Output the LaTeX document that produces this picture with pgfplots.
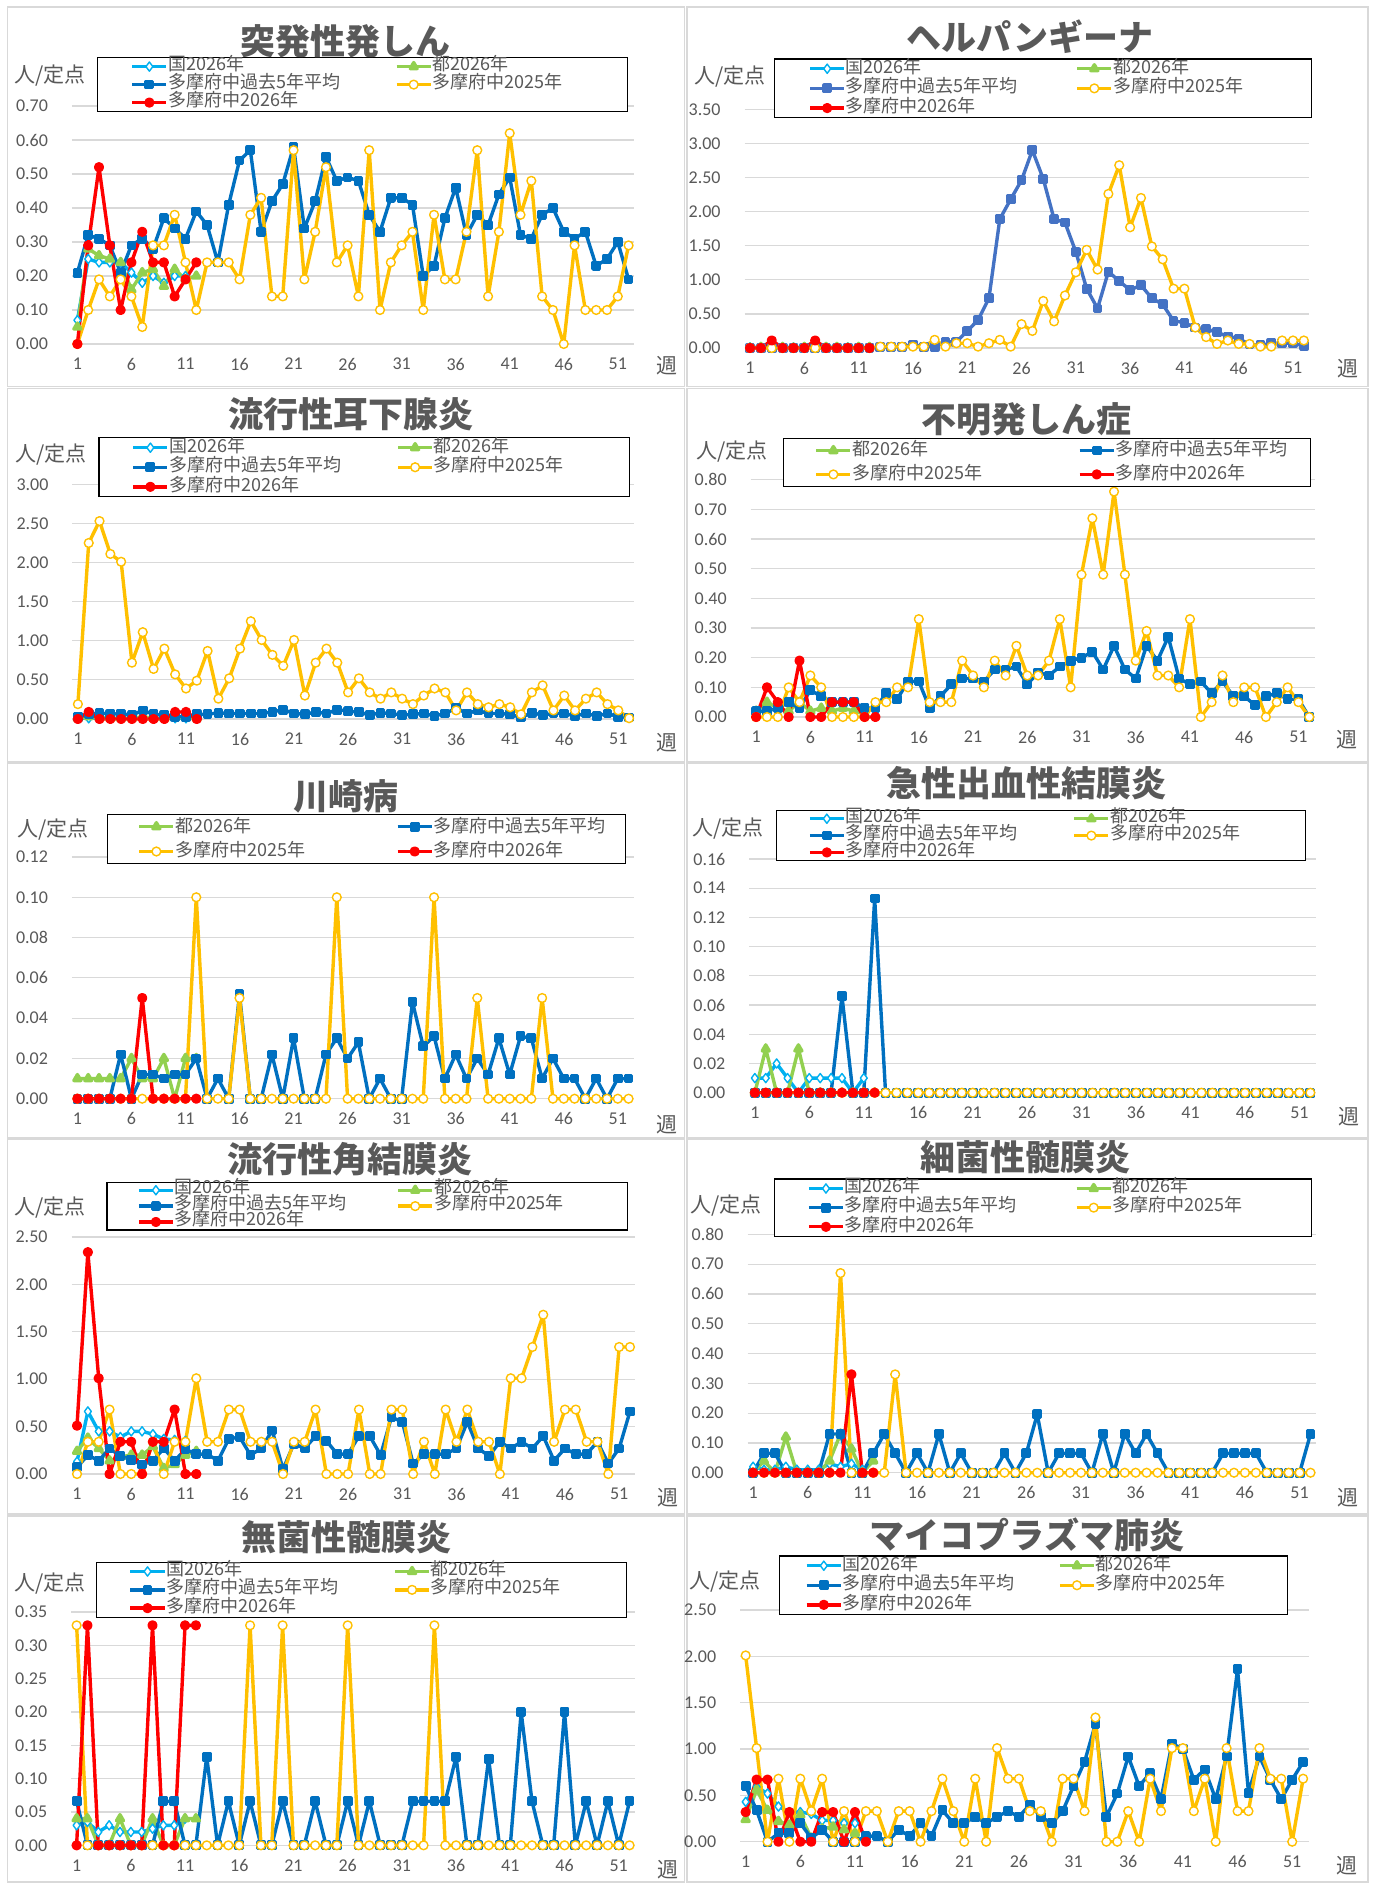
\documentclass[border=0pt]{standalone}
\usepackage{fontspec}
\setmainfont{Carlito}
\newfontfamily\jp{Noto Sans CJK JP}
\usepackage{pgfplots}
\pgfplotsset{compat=1.18}
\definecolor{txtc}{HTML}{595959}
\definecolor{gridc}{HTML}{D9D9D9}
\definecolor{kunic}{HTML}{00B0F0}
\definecolor{toc}{HTML}{92D050}
\definecolor{pastc}{HTML}{0070C0}
\definecolor{pastb}{HTML}{4472C4}
\definecolor{yac}{HTML}{FFC000}
\definecolor{ybc}{HTML}{FF0000}
\pgfplotsset{
 panel/.style={
  scale only axis, anchor=south west,
  xmin=0.5, xmax=52.5, ymin=0,
  xtick={1,6,11,16,21,26,31,36,41,46,51},
  axis line style={draw=none},
  major tick length=0pt,
  ymajorgrids, grid style={gridc, line width=0.6pt},
  clip=false, scaled y ticks=false,
  /pgf/number format/assume math mode=true,
  ticklabel style={font=\fontsize{9}{10}\selectfont, text=txtc},
  yticklabel style={/pgf/number format/fixed, /pgf/number format/fixed zerofill, /pgf/number format/precision=2, anchor=east, xshift=-8.5pt},
  xticklabel style={anchor=center, yshift=-10pt},
  legend columns=2, legend cell align=left,
  legend style={anchor=north west, draw=black, line width=0.6pt, fill=white, inner ysep=0pt, column sep=0pt, row sep=0pt, font=\fontsize{9}{9}\jp\color{txtc}},
 },
 kuni/.style={color=kunic, line width=1.7pt, line join=round, mark=diamond*, mark size=2.3pt, mark options={fill=white, line width=0.7pt}},
 to/.style={color=toc, line width=1.7pt, line join=round, mark=triangle*, mark size=2pt},
 past/.style={color=pastc, line width=1.7pt, line join=round, mark=square*, mark size=1.6pt},
 pastB/.style={color=pastb, line width=1.7pt, line join=round, mark=square*, mark size=1.6pt},
 ya/.style={color=yac, line width=1.7pt, line join=round, mark=*, mark size=2.2pt, mark options={fill=white, line width=0.7pt}},
 yb/.style={color=ybc, line width=1.7pt, line join=round, mark=*, mark size=1.7pt},
}
\begin{document}
\begin{tikzpicture}
\useasboundingbox (0,0) rectangle (686.5pt,-942pt);
\fill[white] (0,0) rectangle (686.5pt,-942pt);
\foreach \xa/\xb in {3.75/342.25, 343.5/684}{
 \foreach \ya/\yb in {3.5/193.25, 194.25/381, 381.75/568.75, 569.5/757, 758/941}{
  \draw[gridc, line width=0.6pt] (\xa pt,-\ya pt) rectangle (\xb pt,-\yb pt);
 }
}
% ---------- P1 突発性発しん
\begin{axis}[panel, at={(36pt,-172pt)}, width=281pt, height=119pt, ymax=0.7, ytick={0,0.1,0.2,0.3,0.4,0.5,0.6,0.7},
 legend style={at={(0.0445,1.2059)}, inner xsep=16.5pt, nodes={inner sep=0pt, text height=6.5pt, text depth=2.5pt}}]
\addplot[kuni] coordinates {(1,.07)(2,.25)(3,.24)(4,.24)(5,.24)(6,.21)(7,.18)(8,.20)(9,.18)(10,.20)(11,.20)};
\addlegendentry{\makebox[113.4pt][l]{国2026年}}
\addplot[to] coordinates {(1,.05)(2,.28)(3,.26)(4,.25)(5,.24)(6,.16)(7,.21)(8,.22)(9,.17)(10,.22)(11,.19)(12,.20)};
\addlegendentry{\makebox[81pt][l]{都2026年}}
\addplot[past] coordinates {(1,.21)(2,.32)(3,.31)(4,.29)(5,.21)(6,.29)(7,.31)(8,.28)(9,.37)(10,.34)(11,.31)(12,.39)(13,.35)(14,.24)(15,.41)(16,.54)(17,.57)(18,.33)(19,.42)(20,.47)(21,.58)(22,.34)(23,.42)(24,.55)(25,.48)(26,.49)(27,.48)(28,.38)(29,.33)(30,.43)(31,.43)(32,.41)(33,.20)(34,.23)(35,.37)(36,.46)(37,.32)(38,.38)(39,.35)(40,.44)(41,.49)(42,.32)(43,.31)(44,.38)(45,.40)(46,.33)(47,.31)(48,.33)(49,.23)(50,.25)(51,.30)(52,.19)};
\addlegendentry{\makebox[113.4pt][l]{多摩府中過去5年平均}}
\addplot[ya] coordinates {(1,0)(2,.10)(3,.19)(4,.14)(5,.19)(6,.14)(7,.05)(8,.29)(9,.29)(10,.38)(11,.24)(12,.10)(13,.24)(14,.24)(15,.24)(16,.19)(17,.38)(18,.43)(19,.14)(20,.14)(21,.57)(22,.19)(23,.33)(24,.52)(25,.24)(26,.29)(27,.14)(28,.57)(29,.10)(30,.24)(31,.29)(32,.33)(33,.10)(34,.38)(35,.19)(36,.19)(37,.33)(38,.57)(39,.14)(40,.33)(41,.62)(42,.38)(43,.48)(44,.14)(45,.10)(46,0)(47,.29)(48,.10)(49,.10)(50,.10)(51,.14)(52,.29)};
\addlegendentry{\makebox[81pt][l]{多摩府中2025年}}
\addplot[yb] coordinates {(1,0)(2,.29)(3,.52)(4,.29)(5,.10)(6,.24)(7,.33)(8,.24)(9,.24)(10,.14)(11,.19)(12,.24)};
\addlegendentry{\makebox[113.4pt][l]{多摩府中2026年}}
\end{axis}
% ---------- P2 ヘルパンギーナ
\begin{axis}[panel, at={(372.3pt,-174pt)}, width=282.35pt, height=119.35pt, ymax=3.5, ytick={0,0.5,1,1.5,2,2.5,3,3.5},
 legend style={at={(0.0514,1.2137)}, inner xsep=17.1pt, nodes={inner sep=0pt, text height=7.1pt, text depth=2.73pt}}]
\addplot[kuni] coordinates {(1,.01)(2,.01)(3,.02)(4,.01)(5,.01)(6,.01)(7,.01)(8,.01)(9,.01)(10,.01)(11,.01)};
\addlegendentry{\makebox[114.8pt][l]{国2026年}}
\addplot[to] coordinates {(1,0)(2,.01)(3,.03)(4,.01)(5,0)(6,.01)(7,.01)(8,.01)(9,.01)(10,0)(11,.01)(12,.01)};
\addlegendentry{\makebox[82.1pt][l]{都2026年}}
\addplot[pastB] coordinates {(1,0)(2,0)(3,0)(4,0)(5,0)(6,0)(7,0)(8,0)(9,0)(10,0)(11,0)(12,0)(13,.01)(14,.01)(15,.02)(16,.05)(17,.02)(18,.02)(19,.09)(20,.09)(21,.25)(22,.41)(23,.73)(24,1.89)(25,2.18)(26,2.46)(27,2.90)(28,2.48)(29,1.89)(30,1.84)(31,1.41)(32,.87)(33,.58)(34,1.12)(35,.98)(36,.85)(37,.92)(38,.73)(39,.64)(40,.40)(41,.37)(42,.30)(43,.28)(44,.23)(45,.17)(46,.14)(47,.05)(48,.04)(49,.07)(50,.07)(51,.07)(52,.03)};
\addlegendentry{\makebox[114.8pt][l]{多摩府中過去5年平均}}
\addplot[ya] coordinates {(1,0)(2,0)(3,0)(4,0)(5,0)(6,0)(7,0)(8,0)(9,0)(10,0)(11,0)(12,0)(13,.02)(14,.02)(15,.02)(16,.02)(17,.02)(18,.12)(19,.02)(20,.07)(21,.07)(22,.02)(23,.07)(24,.12)(25,.02)(26,.35)(27,.25)(28,.69)(29,.39)(30,.77)(31,1.11)(32,1.44)(33,1.15)(34,2.26)(35,2.68)(36,1.77)(37,2.20)(38,1.49)(39,1.30)(40,.87)(41,.87)(42,.30)(43,.16)(44,.06)(45,.11)(46,.06)(47,.06)(48,.02)(49,.02)(50,.11)(51,.11)(52,.11)};
\addlegendentry{\makebox[82.1pt][l]{多摩府中2025年}}
\addplot[yb] coordinates {(1,0)(2,0)(3,.11)(4,0)(5,0)(6,0)(7,.11)(8,0)(9,0)(10,0)(11,0)(12,0)};
\addlegendentry{\makebox[114.8pt][l]{多摩府中2026年}}
\end{axis}
% ---------- P3 流行性耳下腺炎
\begin{axis}[panel, at={(36.25pt,-359.5pt)}, width=281pt, height=117.35pt, ymax=3, ytick={0,0.5,1,1.5,2,2.5,3},
 legend style={at={(0.0461,1.2003)}, inner xsep=16.3pt, nodes={inner sep=0pt, text height=7.05pt, text depth=2.73pt}}]
\addplot[kuni] coordinates {(1,.01)(2,.01)(3,.01)(4,.01)(5,.01)(6,.01)(7,.02)(8,.01)(9,.01)(10,.01)(11,.01)};
\addlegendentry{\makebox[113.6pt][l]{国2026年}}
\addplot[to] coordinates {(1,.01)(2,.03)(3,.02)(4,.01)(5,.01)(6,.01)(7,.03)(8,.01)(9,.01)(10,.02)(11,.02)(12,.01)};
\addlegendentry{\makebox[81.5pt][l]{都2026年}}
\addplot[past] coordinates {(1,.03)(2,.06)(3,.08)(4,.06)(5,.07)(6,.05)(7,.11)(8,.06)(9,.05)(10,.03)(11,.03)(12,.06)(13,.06)(14,.08)(15,.07)(16,.07)(17,.07)(18,.07)(19,.09)(20,.12)(21,.07)(22,.06)(23,.09)(24,.07)(25,.12)(26,.10)(27,.09)(28,.05)(29,.08)(30,.07)(31,.05)(32,.06)(33,.07)(34,.04)(35,.07)(36,.14)(37,.07)(38,.11)(39,.07)(40,.07)(41,.06)(42,.02)(43,.08)(44,.05)(45,.07)(46,.07)(47,.04)(48,.07)(49,.04)(50,.07)(51,.03)(52,.02)};
\addlegendentry{\makebox[113.6pt][l]{多摩府中過去5年平均}}
\addplot[ya] coordinates {(1,.19)(2,2.25)(3,2.53)(4,2.11)(5,2.01)(6,.72)(7,1.11)(8,.64)(9,.90)(10,.57)(11,.39)(12,.49)(13,.87)(14,.26)(15,.52)(16,.90)(17,1.25)(18,1.01)(19,.82)(20,.68)(21,1.01)(22,.30)(23,.72)(24,.90)(25,.72)(26,.34)(27,.52)(28,.34)(29,.26)(30,.34)(31,.26)(32,.19)(33,.30)(34,.39)(35,.34)(36,.11)(37,.34)(38,.19)(39,.15)(40,.19)(41,.15)(42,.06)(43,.34)(44,.43)(45,.11)(46,.30)(47,.11)(48,.26)(49,.34)(50,.19)(51,.11)(52,.01)};
\addlegendentry{\makebox[81.5pt][l]{多摩府中2025年}}
\addplot[yb] coordinates {(1,0)(2,.09)(3,0)(4,0)(5,0)(6,0)(7,0)(8,0)(9,0)(10,.09)(11,.09)(12,0)};
\addlegendentry{\makebox[113.6pt][l]{多摩府中2026年}}
\end{axis}
% ---------- P4 不明発しん症
\begin{axis}[panel, at={(375.35pt,-358.5pt)}, width=282pt, height=118.65pt, ymax=0.8, ytick={0,0.1,0.2,0.3,0.4,0.5,0.6,0.7,0.8},
 legend style={at={(0.0573,1.1757)}, inner xsep=15.5pt, nodes={inner sep=0pt, text height=8.6pt, text depth=3.33pt}}]
\addplot[to] coordinates {(1,.02)(2,.05)(3,.03)(4,.02)(5,.05)(6,.02)(7,.03)(8,.02)(9,.03)(10,.02)(11,.01)};
\addlegendentry{\makebox[112.9pt][l]{都2026年}}
\addplot[past] coordinates {(1,.02)(2,.02)(3,.03)(4,.05)(5,.03)(6,.09)(7,.07)(8,.05)(9,.05)(10,.05)(11,.03)(12,.03)(13,.08)(14,.06)(15,.12)(16,.12)(17,.03)(18,.07)(19,.11)(20,.13)(21,.13)(22,.12)(23,.16)(24,.16)(25,.17)(26,.11)(27,.15)(28,.14)(29,.17)(30,.19)(31,.20)(32,.22)(33,.16)(34,.24)(35,.16)(36,.13)(37,.24)(38,.19)(39,.27)(40,.13)(41,.11)(42,.12)(43,.08)(44,.12)(45,.07)(46,.07)(47,.04)(48,.07)(49,.08)(50,.06)(51,.06)(52,0)};
\addlegendentry{\makebox[81.8pt][l]{多摩府中過去5年平均}}
\addplot[ya] coordinates {(1,0)(2,0)(3,0)(4,.10)(5,.05)(6,.14)(7,.10)(8,0)(9,0)(10,0)(11,0)(12,.05)(13,.05)(14,.10)(15,.10)(16,.33)(17,.05)(18,.05)(19,.05)(20,.19)(21,.14)(22,.10)(23,.19)(24,.14)(25,.24)(26,.14)(27,.14)(28,.19)(29,.33)(30,.10)(31,.48)(32,.67)(33,.48)(34,.76)(35,.48)(36,.19)(37,.29)(38,.14)(39,.14)(40,.10)(41,.33)(42,0)(43,.05)(44,.14)(45,.05)(46,.10)(47,.10)(48,0)(49,.05)(50,.10)(51,.05)(52,0)};
\addlegendentry{\makebox[112.9pt][l]{多摩府中2025年}}
\addplot[yb] coordinates {(1,0)(2,.10)(3,.05)(4,0)(5,.19)(6,0)(7,0)(8,.05)(9,.05)(10,.05)(11,0)(12,0)};
\addlegendentry{\makebox[81.8pt][l]{多摩府中2026年}}
\end{axis}
% ---------- P5 川崎病
\begin{axis}[panel, at={(36pt,-549.35pt)}, width=281pt, height=120.85pt, ymax=0.12, ytick={0,0.02,0.04,0.06,0.08,0.10,0.12},
 legend style={at={(0.0623,1.1792)}, inner xsep=15pt, nodes={inner sep=0pt, text height=8.9pt, text depth=3.5pt}}]
\addplot[to] coordinates {(1,.01)(2,.01)(3,.01)(4,.01)(5,.01)(6,.02)(7,.01)(8,.01)(9,.02)(10,0)(11,.02)(12,.02)};
\addlegendentry{\makebox[110.4pt][l]{都2026年}}
\addplot[past] coordinates {(1,0)(2,0)(3,0)(4,0)(5,.022)(6,0)(7,.012)(8,.012)(9,.010)(10,.012)(11,.012)(12,.020)(13,0)(14,.010)(15,0)(16,.052)(17,0)(18,0)(19,.022)(20,0)(21,.030)(22,0)(23,0)(24,.022)(25,.030)(26,.020)(27,.028)(28,0)(29,.010)(30,0)(31,0)(32,.048)(33,.026)(34,.031)(35,.010)(36,.022)(37,.010)(38,.020)(39,.012)(40,.030)(41,.012)(42,.031)(43,.030)(44,.010)(45,.020)(46,.010)(47,.010)(48,0)(49,.010)(50,0)(51,.010)(52,.010)};
\addlegendentry{\makebox[80.8pt][l]{多摩府中過去5年平均}}
\addplot[ya] coordinates {(1,0)(2,0)(3,0)(4,0)(5,0)(6,0)(7,0)(8,0)(9,0)(10,0)(11,0)(12,.10)(13,0)(14,0)(15,0)(16,.05)(17,0)(18,0)(19,0)(20,0)(21,0)(22,0)(23,0)(24,0)(25,.10)(26,0)(27,0)(28,0)(29,0)(30,0)(31,0)(32,0)(33,0)(34,.10)(35,0)(36,0)(37,0)(38,.05)(39,0)(40,0)(41,0)(42,0)(43,0)(44,.05)(45,0)(46,0)(47,0)(48,0)(49,0)(50,0)(51,0)(52,0)};
\addlegendentry{\makebox[110.4pt][l]{多摩府中2025年}}
\addplot[yb] coordinates {(1,0)(2,0)(3,0)(4,0)(5,0)(6,0)(7,.05)(8,0)(9,0)(10,0)(11,0)(12,0)};
\addlegendentry{\makebox[80.8pt][l]{多摩府中2026年}}
\end{axis}
% ---------- P6 急性出血性結膜炎
\begin{axis}[panel, at={(374.7pt,-546.35pt)}, width=283.2pt, height=116.85pt, ymax=0.16, ytick={0,0.02,0.04,0.06,0.08,0.10,0.12,0.14,0.16},
 legend style={at={(0.0467,1.2110)}, inner xsep=15.8pt, nodes={inner sep=0pt, text height=6.1pt, text depth=2.33pt}}]
\addplot[kuni] coordinates {(1,.01)(2,.01)(3,.02)(4,.01)(5,0)(6,.01)(7,.01)(8,.01)(9,.01)(10,0)(11,.01)};
\addlegendentry{\makebox[113.5pt][l]{国2026年}}
\addplot[to] coordinates {(1,0)(2,.03)(3,0)(4,0)(5,.03)(6,0)(7,0)(8,0)(9,0)(10,0)(11,0)(12,0)};
\addlegendentry{\makebox[81.9pt][l]{都2026年}}
\addplot[past] coordinates {(1,0)(2,0)(3,0)(4,0)(5,0)(6,0)(7,0)(8,0)(9,.066)(10,0)(11,0)(12,.133)(13,0)(14,0)(15,0)(16,0)(17,0)(18,0)(19,0)(20,0)(21,0)(22,0)(23,0)(24,0)(25,0)(26,0)(27,0)(28,0)(29,0)(30,0)(31,0)(32,0)(33,0)(34,0)(35,0)(36,0)(37,0)(38,0)(39,0)(40,0)(41,0)(42,0)(43,0)(44,0)(45,0)(46,0)(47,0)(48,0)(49,0)(50,0)(51,0)(52,0)};
\addlegendentry{\makebox[113.5pt][l]{多摩府中過去5年平均}}
\addplot[ya] coordinates {(1,0)(2,0)(3,0)(4,0)(5,0)(6,0)(7,0)(8,0)(9,0)(10,0)(11,0)(12,0)(13,0)(14,0)(15,0)(16,0)(17,0)(18,0)(19,0)(20,0)(21,0)(22,0)(23,0)(24,0)(25,0)(26,0)(27,0)(28,0)(29,0)(30,0)(31,0)(32,0)(33,0)(34,0)(35,0)(36,0)(37,0)(38,0)(39,0)(40,0)(41,0)(42,0)(43,0)(44,0)(45,0)(46,0)(47,0)(48,0)(49,0)(50,0)(51,0)(52,0)};
\addlegendentry{\makebox[81.9pt][l]{多摩府中2025年}}
\addplot[yb] coordinates {(1,0)(2,0)(3,0)(4,0)(5,0)(6,0)(7,0)(8,0)(9,0)(10,0)(11,0)(12,0)};
\addlegendentry{\makebox[113.5pt][l]{多摩府中2026年}}
\end{axis}
% ---------- P7 流行性角結膜炎
\begin{axis}[panel, at={(35.8pt,-737pt)}, width=281.9pt, height=118.5pt, ymax=2.5, ytick={0,0.5,1,1.5,2,2.5},
 legend style={at={(0.0616,1.2333)}, inner xsep=15.1pt, nodes={inner sep=0pt, text height=5.7pt, text depth=2.23pt}}]
\addplot[kuni] coordinates {(1,.13)(2,.66)(3,.45)(4,.45)(5,.39)(6,.45)(7,.45)(8,.42)(9,.37)(10,.36)(11,.35)};
\addlegendentry{\makebox[110.9pt][l]{国2026年}}
\addplot[to] coordinates {(1,.24)(2,.38)(3,.27)(4,.14)(5,.18)(6,.20)(7,.20)(8,.29)(9,.06)(10,.10)(11,.20)(12,.24)};
\addlegendentry{\makebox[81.8pt][l]{都2026年}}
\addplot[past] coordinates {(1,.07)(2,.20)(3,.14)(4,.27)(5,.19)(6,.15)(7,.10)(8,.14)(9,.27)(10,.14)(11,.26)(12,.21)(13,.21)(14,.14)(15,.37)(16,.39)(17,.20)(18,.27)(19,.46)(20,.05)(21,.32)(22,.27)(23,.40)(24,.35)(25,.21)(26,.21)(27,.40)(28,.40)(29,.20)(30,.60)(31,.55)(32,.11)(33,.21)(34,.21)(35,.21)(36,.27)(37,.55)(38,.27)(39,.19)(40,.34)(41,.27)(42,.34)(43,.27)(44,.40)(45,.14)(46,.27)(47,.21)(48,.21)(49,.34)(50,.11)(51,.27)(52,.66)};
\addlegendentry{\makebox[110.9pt][l]{多摩府中過去5年平均}}
\addplot[ya] coordinates {(1,0)(2,.34)(3,.34)(4,.68)(5,0)(6,0)(7,0)(8,.34)(9,0)(10,.34)(11,.34)(12,1.01)(13,.34)(14,.34)(15,.68)(16,.68)(17,.34)(18,.34)(19,.34)(20,0)(21,.34)(22,.34)(23,.68)(24,0)(25,0)(26,0)(27,.68)(28,0)(29,0)(30,.68)(31,.68)(32,0)(33,.34)(34,0)(35,.68)(36,.34)(37,.68)(38,.34)(39,.34)(40,0)(41,1.01)(42,1.01)(43,1.34)(44,1.68)(45,.34)(46,.68)(47,.68)(48,.34)(49,.34)(50,0)(51,1.34)(52,1.34)};
\addlegendentry{\makebox[81.8pt][l]{多摩府中2025年}}
\addplot[yb] coordinates {(1,.51)(2,2.34)(3,1.01)(4,0)(5,.34)(6,.34)(7,0)(8,.34)(9,.34)(10,.68)(11,0)(12,0)};
\addlegendentry{\makebox[110.9pt][l]{多摩府中2026年}}
\end{axis}
% ---------- P8 細菌性髄膜炎
\begin{axis}[panel, at={(373.8pt,-736.35pt)}, width=284.2pt, height=119.2pt, ymax=0.8, ytick={0,0.1,0.2,0.3,0.4,0.5,0.6,0.7,0.8},
 legend style={at={(0.0459,1.2349)}, inner xsep=16.45pt, nodes={inner sep=0pt, text height=6.9pt, text depth=2.67pt}}]
\addplot[kuni] coordinates {(1,.02)(2,.01)(3,.01)(4,.02)(5,.01)(6,.01)(7,.01)(8,.03)(9,.02)(10,.03)(11,.01)};
\addlegendentry{\makebox[115.1pt][l]{国2026年}}
\addplot[to] coordinates {(1,0)(2,.04)(3,0)(4,.12)(5,0)(6,0)(7,0)(8,.04)(9,.13)(10,.08)(11,0)(12,.04)};
\addlegendentry{\makebox[83.1pt][l]{都2026年}}
\addplot[past] coordinates {(1,0)(2,.065)(3,.065)(4,0)(5,0)(6,0)(7,0)(8,.13)(9,.13)(10,0)(11,0)(12,.065)(13,.13)(14,.065)(15,0)(16,.065)(17,0)(18,.13)(19,0)(20,.065)(21,0)(22,0)(23,0)(24,.065)(25,0)(26,.065)(27,.196)(28,0)(29,.065)(30,.065)(31,.065)(32,0)(33,.13)(34,0)(35,.13)(36,.065)(37,.13)(38,.065)(39,0)(40,0)(41,0)(42,0)(43,0)(44,.065)(45,.065)(46,.065)(47,.065)(48,0)(49,0)(50,0)(51,0)(52,.13)};
\addlegendentry{\makebox[115.1pt][l]{多摩府中過去5年平均}}
\addplot[ya] coordinates {(1,0)(2,0)(3,0)(4,0)(5,0)(6,0)(7,0)(8,0)(9,.67)(10,0)(11,0)(12,0)(13,0)(14,.33)(15,0)(16,0)(17,0)(18,0)(19,0)(20,0)(21,0)(22,0)(23,0)(24,0)(25,0)(26,0)(27,0)(28,0)(29,0)(30,0)(31,0)(32,0)(33,0)(34,0)(35,0)(36,0)(37,0)(38,0)(39,0)(40,0)(41,0)(42,0)(43,0)(44,0)(45,0)(46,0)(47,0)(48,0)(49,0)(50,0)(51,0)(52,0)};
\addlegendentry{\makebox[83.1pt][l]{多摩府中2025年}}
\addplot[yb] coordinates {(1,0)(2,0)(3,0)(4,0)(5,0)(6,0)(7,0)(8,0)(9,0)(10,.33)(11,0)(12,0)};
\addlegendentry{\makebox[115.1pt][l]{多摩府中2026年}}
\end{axis}
% ---------- P9 無菌性髄膜炎
\begin{axis}[panel, at={(35.6pt,-922.65pt)}, width=281.9pt, height=116.65pt, ymax=0.35, ytick={0,0.05,0.1,0.15,0.2,0.25,0.3,0.35},
 legend style={at={(0.0443,1.2156)}, inner xsep=16pt, nodes={inner sep=0pt, text height=6.6pt, text depth=2.57pt}}]
\addplot[kuni] coordinates {(1,.03)(2,.035)(3,.02)(4,.03)(5,.02)(6,.02)(7,.02)(8,.025)(9,.03)(10,.03)(11,.04)};
\addlegendentry{\makebox[113.5pt][l]{国2026年}}
\addplot[to] coordinates {(1,.04)(2,.04)(3,0)(4,0)(5,.04)(6,0)(7,0)(8,.04)(9,0)(10,0)(11,.04)(12,.04)};
\addlegendentry{\makebox[81.8pt][l]{都2026年}}
\addplot[past] coordinates {(1,.066)(2,0)(3,0)(4,0)(5,0)(6,0)(7,0)(8,0)(9,.066)(10,.066)(11,0)(12,0)(13,.133)(14,0)(15,.066)(16,0)(17,.066)(18,0)(19,0)(20,.066)(21,0)(22,0)(23,.066)(24,0)(25,0)(26,.066)(27,0)(28,.066)(29,0)(30,0)(31,0)(32,.066)(33,.066)(34,.066)(35,.066)(36,.133)(37,0)(38,0)(39,.13)(40,0)(41,0)(42,.20)(43,.066)(44,0)(45,0)(46,.20)(47,0)(48,.066)(49,0)(50,.066)(51,0)(52,.066)};
\addlegendentry{\makebox[113.5pt][l]{多摩府中過去5年平均}}
\addplot[ya] coordinates {(1,.33)(2,0)(3,0)(4,0)(5,0)(6,0)(7,0)(8,0)(9,0)(10,0)(11,0)(12,0)(13,0)(14,0)(15,0)(16,0)(17,.33)(18,0)(19,0)(20,.33)(21,0)(22,0)(23,0)(24,0)(25,0)(26,.33)(27,0)(28,0)(29,0)(30,0)(31,0)(32,0)(33,0)(34,.33)(35,0)(36,0)(37,0)(38,0)(39,0)(40,0)(41,0)(42,0)(43,0)(44,0)(45,0)(46,0)(47,0)(48,0)(49,0)(50,0)(51,0)(52,0)};
\addlegendentry{\makebox[81.8pt][l]{多摩府中2025年}}
\addplot[yb] coordinates {(1,0)(2,.33)(3,0)(4,0)(5,0)(6,0)(7,0)(8,.33)(9,0)(10,0)(11,.33)(12,.33)};
\addlegendentry{\makebox[113.5pt][l]{多摩府中2026年}}
\end{axis}
% ---------- P10 マイコプラズマ肺炎
\begin{axis}[panel, at={(370.1pt,-920.85pt)}, width=284.2pt, height=115.85pt, ymax=2.5, ytick={0,0.5,1,1.5,2,2.5},
 legend style={at={(0.0683,1.2361)}, inner xsep=12.7pt, nodes={inner sep=0pt, text height=7.05pt, text depth=2.73pt}}]
\addplot[kuni] coordinates {(1,.43)(2,.59)(3,.52)(4,.38)(5,.32)(6,.32)(7,.30)(8,.23)(9,.23)(10,.20)(11,.20)};
\addlegendentry{\makebox[107.8pt][l]{国2026年}}
\addplot[to] coordinates {(1,.24)(2,.56)(3,.34)(4,.22)(5,.18)(6,.29)(7,.04)(8,.14)(9,.16)(10,.13)(11,.09)};
\addlegendentry{\makebox[83.1pt][l]{都2026年}}
\addplot[past] coordinates {(1,.60)(2,.34)(3,0)(4,.09)(5,.09)(6,.20)(7,.04)(8,.13)(9,0)(10,0)(11,0)(12,.06)(13,.06)(14,0)(15,.13)(16,.06)(17,.20)(18,.06)(19,.34)(20,.20)(21,.20)(22,.27)(23,.20)(24,.27)(25,.33)(26,.27)(27,.40)(28,.27)(29,.20)(30,.33)(31,.60)(32,.86)(33,1.27)(34,.27)(35,.52)(36,.92)(37,.60)(38,.74)(39,.46)(40,1.06)(41,1.00)(42,.67)(43,.78)(44,.46)(45,.92)(46,1.86)(47,.53)(48,.92)(49,.67)(50,.46)(51,.67)(52,.86)};
\addlegendentry{\makebox[107.8pt][l]{多摩府中過去5年平均}}
\addplot[ya] coordinates {(1,2.01)(2,1.01)(3,0)(4,.68)(5,0)(6,.68)(7,.33)(8,.68)(9,0)(10,.33)(11,0)(12,.33)(13,.33)(14,0)(15,.33)(16,.33)(17,0)(18,.33)(19,.68)(20,.33)(21,0)(22,.68)(23,0)(24,1.01)(25,.68)(26,.68)(27,.33)(28,.33)(29,0)(30,.68)(31,.68)(32,.33)(33,1.34)(34,0)(35,0)(36,.33)(37,0)(38,.68)(39,.33)(40,1.01)(41,1.01)(42,.33)(43,.68)(44,0)(45,1.01)(46,.33)(47,.33)(48,1.01)(49,.68)(50,.68)(51,0)(52,.68)};
\addlegendentry{\makebox[83.1pt][l]{多摩府中2025年}}
\addplot[yb] coordinates {(1,.32)(2,.67)(3,.67)(4,0)(5,.32)(6,0)(7,0)(8,.32)(9,.32)(10,0)(11,.32)(12,0)};
\addlegendentry{\makebox[107.8pt][l]{多摩府中2026年}}
\end{axis}
% ---------- titles and labels
\begin{scope}[every node/.style={text=txtc}]
\foreach \x/\y/\t in {172.5/20.5/突発性発しん, 515/18.5/ヘルパンギーナ, 175.5/207/流行性耳下腺炎, 513/209.5/不明発しん症, 173/398/川崎病, 513/391.5/急性出血性結膜炎, 175/579.5/流行性角結膜炎, 512.5/578.5/細菌性髄膜炎, 173/768.5/無菌性髄膜炎, 513.5/767.5/マイコプラズマ肺炎}{
 \node[font=\fontsize{17.5}{19}\jp\bfseries, inner sep=1pt] at (\x pt,-\y pt) {\t};
}
\foreach \x/\y in {25/38, 365/38.5, 25.5/227.5, 366/226, 26.5/415, 364/414.5, 25/604, 363/603, 25/792, 362.5/791}{
 \node[font=\fontsize{10.5}{12}\jp] at (\x pt,-\y pt) {人/定点};
}
\foreach \x/\y in {333.5/183, 674/184.5, 333.5/371.5, 673.5/370, 333.5/562.5, 674.5/558.5, 334/749, 674/749, 334/935, 673.5/933}{
 \node[font=\fontsize{10.5}{12}\jp] at (\x pt,-\y pt) {週};
}
\end{scope}
\end{tikzpicture}
\end{document}
